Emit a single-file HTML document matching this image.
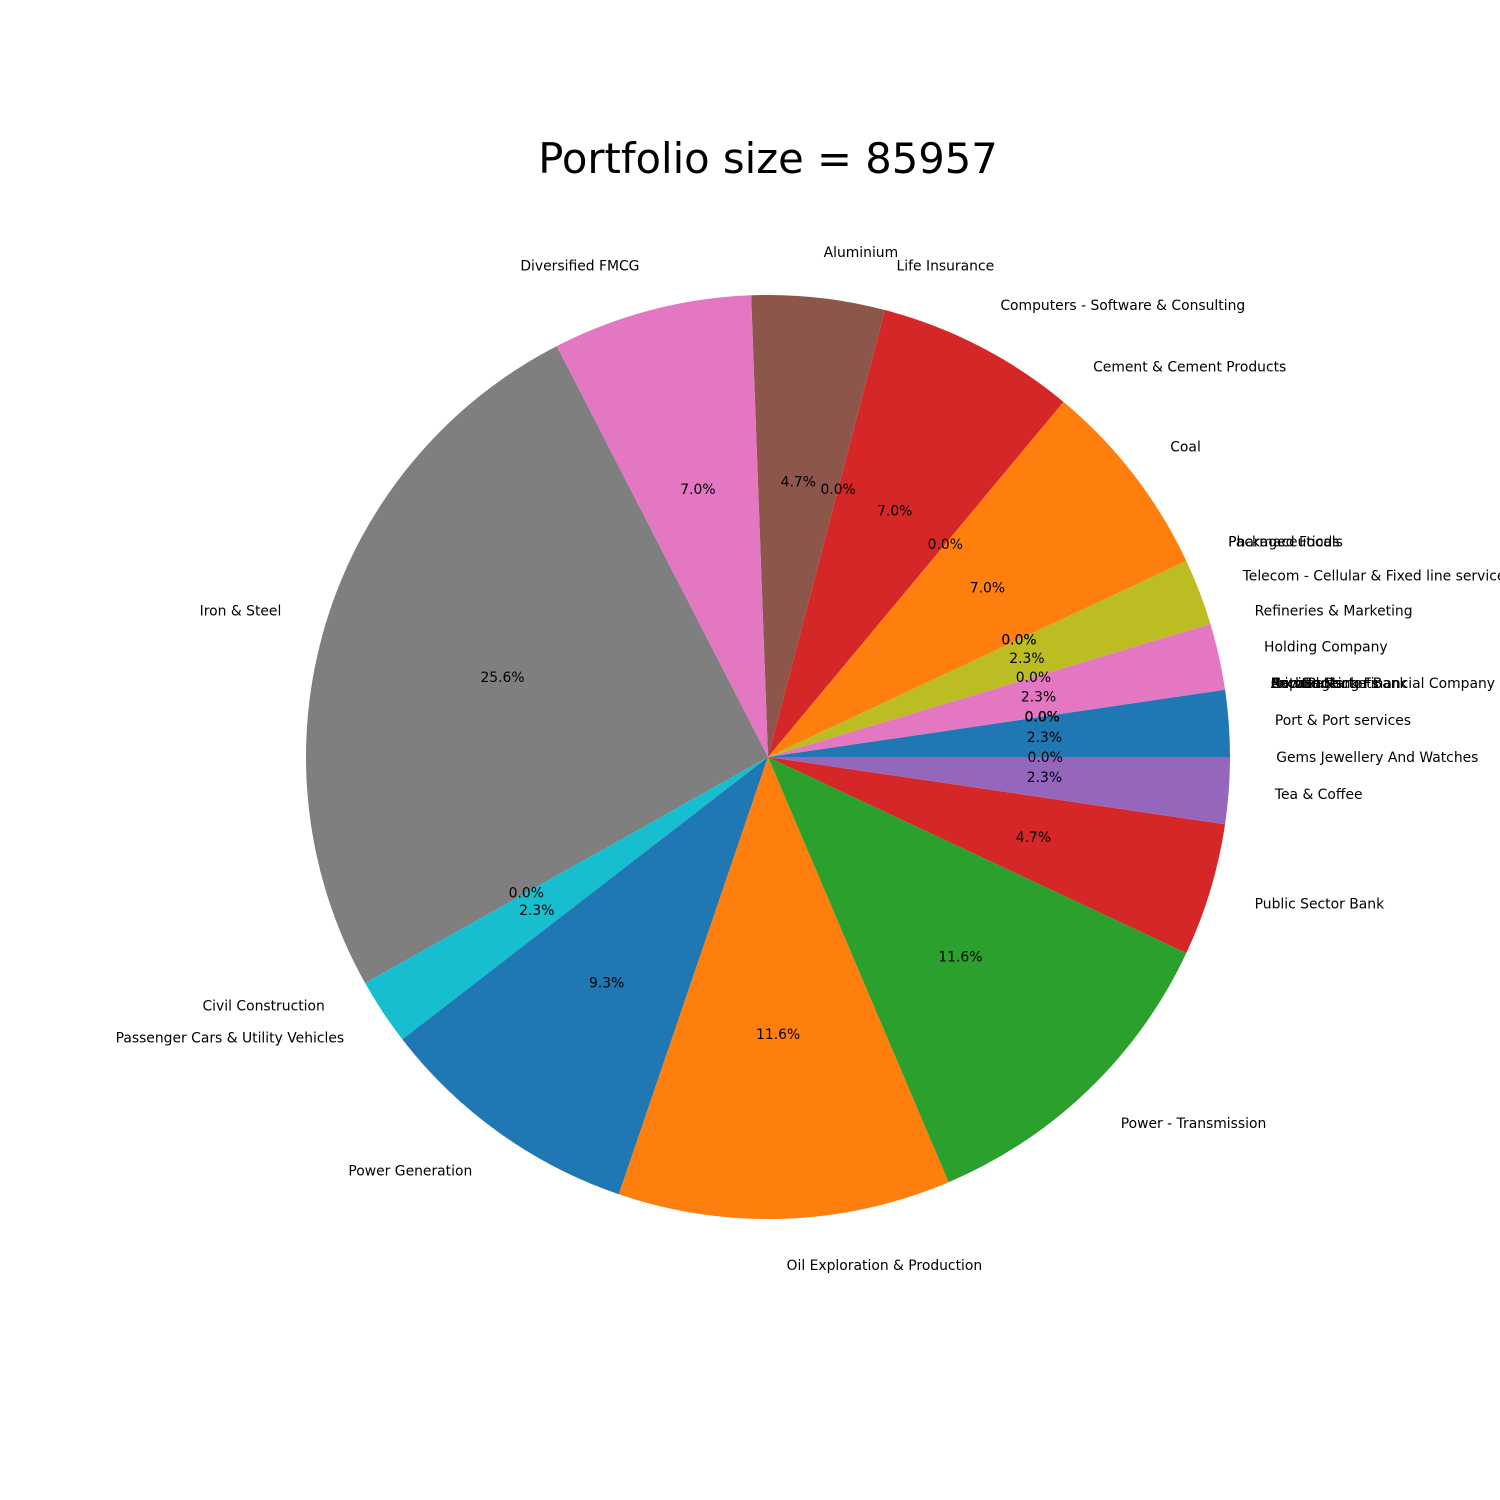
<!DOCTYPE html>
<html><head><meta charset="utf-8"><style>
body{margin:0;background:#fff}
svg{display:block;font-family:"DejaVu Sans","Liberation Sans",sans-serif}
</style></head><body>
<svg id="chart" width="1500" height="1500" viewBox="0 0 1500 1500">
<rect width="1500" height="1500" fill="#fff"/>
<text x="768" y="173" font-size="41.7" text-anchor="middle" fill="#000">Portfolio size = 85957</text>
<g id="slices"></g><g id="labels"></g>
</svg>
<script>
const categories = ["Port & Port services","Private Sector Bank","Non Banking Financial Company","Auto Parts","Capital Markets","Exchange","Holding Company","Refineries & Marketing","Telecom - Cellular & Fixed line services","Packaged Foods","Pharmaceuticals","Coal","Cement & Cement Products","Computers - Software & Consulting","Life Insurance","Aluminium","Diversified FMCG","Iron & Steel","Civil Construction","Passenger Cars & Utility Vehicles","Power Generation","Oil Exploration & Production","Power - Transmission","Public Sector Bank","Tea & Coffee","Gems Jewellery And Watches"];
const values = [1,0,0,0,0,0,1,0,1,0,0,3,0,3,0,2,3,11,0,1,4,5,5,2,1,0];
const palette = ["#1f77b4","#ff7f0e","#2ca02c","#d62728","#9467bd","#8c564b","#e377c2","#7f7f7f","#bcbd22","#17becf"];
const cx=768, cy=757, R=462;
const total = values.reduce((a,b)=>a+b,0);
const NS="http://www.w3.org/2000/svg";
const gs=document.getElementById('slices'), gl=document.getElementById('labels');
function pt(r,deg){const a=deg*Math.PI/180;return [cx+r*Math.cos(a), cy-r*Math.sin(a)];}
let start=0;
values.forEach((v,i)=>{
  const sweep=v/total*360, end=start+sweep, mid=start+sweep/2;
  if(v>0){
    const p=document.createElementNS(NS,'path');
    const [x1,y1]=pt(R,start),[x2,y2]=pt(R,end);
    p.setAttribute('d',`M${cx},${cy} L${x1},${y1} A${R},${R} 0 ${sweep>180?1:0} 0 ${x2},${y2} Z`);
    p.setAttribute('fill',palette[i%10]);
    
    
    gs.appendChild(p);
  }
  const [lx,ly]=pt(R*1.1,mid);
  const t=document.createElementNS(NS,'text');
  t.setAttribute('x',lx);t.setAttribute('y',ly+5);t.setAttribute('font-size','13.9');
  t.setAttribute('text-anchor',Math.cos(mid*Math.PI/180)>=0?'start':'end');
  t.textContent=categories[i];
  
  
  gl.appendChild(t);
  const [px,py]=pt(R*0.6,mid);
  const q=document.createElementNS(NS,'text');
  q.setAttribute('x',px);q.setAttribute('y',py+5);q.setAttribute('font-size','13.9');
  q.setAttribute('text-anchor','middle');
  q.textContent=(v/total*100).toFixed(1)+'%';
  
  
  gl.appendChild(q);
  start=end;
});
</script>
</body></html>
